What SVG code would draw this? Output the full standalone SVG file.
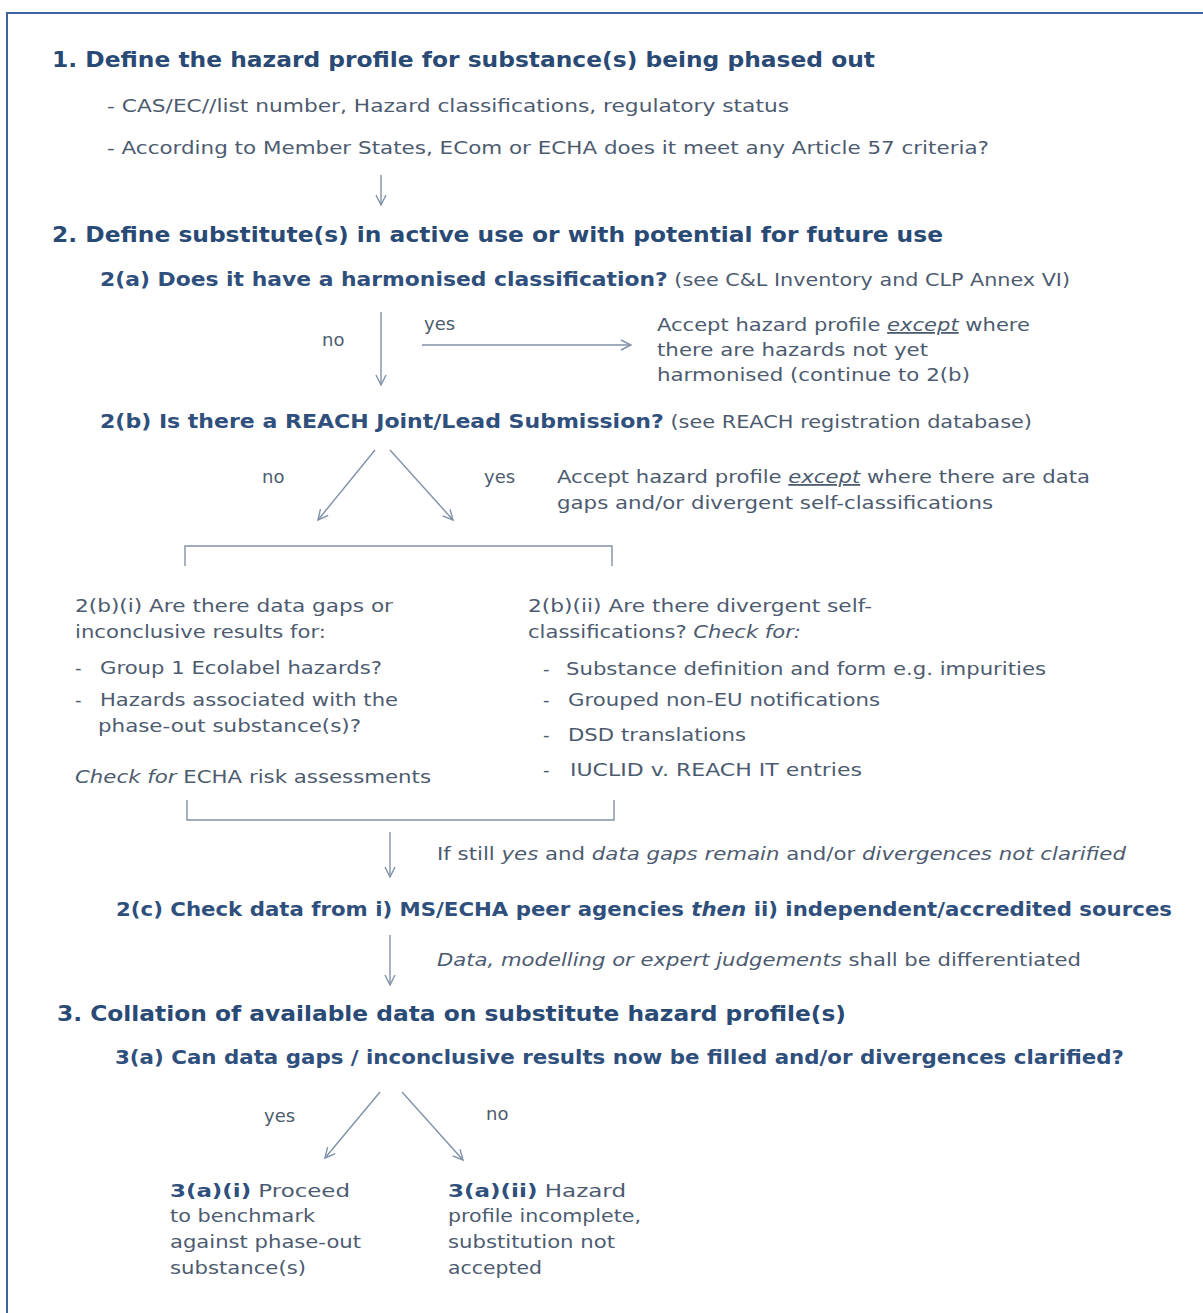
<svg xmlns="http://www.w3.org/2000/svg" width="1203" height="1313" viewBox="0 0 1203 1313">
<style>
text{font-family:"DejaVu Sans","Verdana","Liberation Sans",sans-serif;}
.h1{font-size:22px;font-weight:bold;fill:#2a4a76;}
.h2{font-size:19px;font-weight:bold;fill:#2f4f7c;}
.b{font-size:18px;fill:#4d5b70;}
.n{font-weight:normal;fill:#4d5b70;}
.i{font-style:italic;}
.u{text-decoration:underline;}
.bold{font-weight:bold;fill:#2f4f7c;}
.c{stroke:#8191a9;stroke-width:1.4;fill:none;}
</style>
<defs>
<marker id="ah" viewBox="0 0 12 12" refX="11" refY="6" markerWidth="12" markerHeight="12" markerUnits="userSpaceOnUse" orient="auto">
<path d="M1,1 L11,6 L1,11" fill="none" stroke="#8191a9" stroke-width="1.4"/>
</marker>
</defs>
<rect x="0" y="0" width="1203" height="1313" fill="#ffffff"/>
<rect x="7" y="13" width="1210" height="1320" fill="none" stroke="#3d64a0" stroke-width="2"/>

<g id="connectors">
<line class="c" x1="381" y1="175" x2="381" y2="205" marker-end="url(#ah)"/>
<line class="c" x1="381" y1="312" x2="381" y2="385" marker-end="url(#ah)"/>
<line class="c" x1="422" y1="345" x2="631" y2="345" marker-end="url(#ah)"/>
<line class="c" x1="375" y1="450" x2="318" y2="520" marker-end="url(#ah)"/>
<line class="c" x1="390" y1="450" x2="453" y2="520" marker-end="url(#ah)"/>
<polyline class="c" points="185,566 185,546 612,546 612,566"/>
<polyline class="c" points="187,800 187,820 614,820 614,800"/>
<line class="c" x1="390" y1="832" x2="390" y2="877" marker-end="url(#ah)"/>
<line class="c" x1="390" y1="935" x2="390" y2="985" marker-end="url(#ah)"/>
<line class="c" x1="380" y1="1092" x2="325" y2="1158" marker-end="url(#ah)"/>
<line class="c" x1="402" y1="1092" x2="463" y2="1160" marker-end="url(#ah)"/>
</g>

<g id="step1">
<text class="h1" x="52" y="67" textLength="823" lengthAdjust="spacingAndGlyphs">1. Define the hazard profile for substance(s) being phased out</text>
<text class="b" x="107" y="112" textLength="682" lengthAdjust="spacingAndGlyphs">- CAS/EC//list number, Hazard classifications, regulatory status</text>
<text class="b" x="107" y="154" textLength="882" lengthAdjust="spacingAndGlyphs">- According to Member States, ECom or ECHA does it meet any Article 57 criteria?</text>
</g>

<g id="step2">
<text class="h1" x="52" y="242" textLength="891" lengthAdjust="spacingAndGlyphs">2. Define substitute(s) in active use or with potential for future use</text>
</g>

<g id="step2a">
<text class="h2" x="100" y="286" textLength="970" lengthAdjust="spacingAndGlyphs">2(a) Does it have a harmonised classification?<tspan class="n" font-size="18"> (see C&amp;L Inventory and CLP Annex VI)</tspan></text>
<text class="b" x="322" y="346">no</text>
<text class="b" x="424" y="330">yes</text>
</g>

<g id="step2a-yes">
<text class="b" x="657" y="331" textLength="373" lengthAdjust="spacingAndGlyphs">Accept hazard profile <tspan class="i u">except</tspan> where</text>
<text class="b" x="657" y="356" textLength="271" lengthAdjust="spacingAndGlyphs">there are hazards not yet</text>
<text class="b" x="657" y="381" textLength="313" lengthAdjust="spacingAndGlyphs">harmonised (continue to 2(b)</text>
</g>

<g id="step2b">
<text class="h2" x="100" y="428" textLength="932" lengthAdjust="spacingAndGlyphs">2(b) Is there a REACH Joint/Lead Submission?<tspan class="n" font-size="18"> (see REACH registration database)</tspan></text>
<text class="b" x="262" y="483">no</text>
<text class="b" x="484" y="483">yes</text>
</g>

<g id="step2b-yes">
<text class="b" x="557" y="483" textLength="533" lengthAdjust="spacingAndGlyphs">Accept hazard profile <tspan class="i u">except</tspan> where there are data</text>
<text class="b" x="557" y="509" textLength="436" lengthAdjust="spacingAndGlyphs">gaps and/or divergent self-classifications</text>
</g>

<g id="step2b-i">
<text class="b" x="75" y="612" textLength="318" lengthAdjust="spacingAndGlyphs">2(b)(i) Are there data gaps or</text>
<text class="b" x="75" y="638" textLength="251" lengthAdjust="spacingAndGlyphs">inconclusive results for:</text>
<text class="b" x="75" y="674">-</text>
<text class="b" x="100" y="674" textLength="282" lengthAdjust="spacingAndGlyphs">Group 1 Ecolabel hazards?</text>
<text class="b" x="75" y="706">-</text>
<text class="b" x="100" y="706" textLength="298" lengthAdjust="spacingAndGlyphs">Hazards associated with the</text>
<text class="b" x="98" y="732" textLength="263" lengthAdjust="spacingAndGlyphs">phase-out substance(s)?</text>
<text class="b" x="75" y="783" textLength="356" lengthAdjust="spacingAndGlyphs"><tspan class="i">Check for</tspan> ECHA risk assessments</text>
</g>

<g id="step2b-ii">
<text class="b" x="528" y="612" textLength="344" lengthAdjust="spacingAndGlyphs">2(b)(ii) Are there divergent self-</text>
<text class="b" x="528" y="638" textLength="273" lengthAdjust="spacingAndGlyphs">classifications? <tspan class="i">Check for:</tspan></text>
<text class="b" x="543" y="675">-</text>
<text class="b" x="566" y="675" textLength="480" lengthAdjust="spacingAndGlyphs">Substance definition and form e.g. impurities</text>
<text class="b" x="543" y="706">-</text>
<text class="b" x="568" y="706" textLength="312" lengthAdjust="spacingAndGlyphs">Grouped non-EU notifications</text>
<text class="b" x="543" y="741">-</text>
<text class="b" x="568" y="741" textLength="178" lengthAdjust="spacingAndGlyphs">DSD translations</text>
<text class="b" x="543" y="776">-</text>
<text class="b" x="570" y="776" textLength="292" lengthAdjust="spacingAndGlyphs">IUCLID v. REACH IT entries</text>
</g>

<g id="note-still-yes">
<text class="b" x="437" y="860" textLength="689" lengthAdjust="spacingAndGlyphs">If still <tspan class="i">yes</tspan> and <tspan class="i">data gaps remain</tspan> and/or <tspan class="i">divergences not clarified</tspan></text>
</g>

<g id="step2c">
<text class="h2" x="116" y="916" textLength="1056" lengthAdjust="spacingAndGlyphs">2(c) Check data from i) MS/ECHA peer agencies <tspan class="i">then</tspan> ii) independent/accredited sources</text>
</g>

<g id="note-differentiated">
<text class="b" x="437" y="966" textLength="644" lengthAdjust="spacingAndGlyphs"><tspan class="i">Data, modelling or expert judgements</tspan> shall be differentiated</text>
</g>

<g id="step3">
<text class="h1" x="57" y="1021" textLength="789" lengthAdjust="spacingAndGlyphs">3. Collation of available data on substitute hazard profile(s)</text>
</g>

<g id="step3a">
<text class="h2" x="115" y="1064" textLength="1009" lengthAdjust="spacingAndGlyphs">3(a) Can data gaps / inconclusive results now be filled and/or divergences clarified?</text>
<text class="b" x="264" y="1122">yes</text>
<text class="b" x="486" y="1120">no</text>
</g>

<g id="step3a-i">
<text class="b" x="170" y="1197" textLength="180" lengthAdjust="spacingAndGlyphs"><tspan class="bold">3(a)(i)</tspan>  Proceed</text>
<text class="b" x="170" y="1222" textLength="145" lengthAdjust="spacingAndGlyphs">to benchmark</text>
<text class="b" x="170" y="1248" textLength="191" lengthAdjust="spacingAndGlyphs">against phase-out</text>
<text class="b" x="170" y="1274" textLength="136" lengthAdjust="spacingAndGlyphs">substance(s)</text>
</g>

<g id="step3a-ii">
<text class="b" x="448" y="1197" textLength="178" lengthAdjust="spacingAndGlyphs"><tspan class="bold">3(a)(ii)</tspan>  Hazard</text>
<text class="b" x="448" y="1222" textLength="193" lengthAdjust="spacingAndGlyphs">profile incomplete,</text>
<text class="b" x="448" y="1248" textLength="167" lengthAdjust="spacingAndGlyphs">substitution not</text>
<text class="b" x="448" y="1274" textLength="94" lengthAdjust="spacingAndGlyphs">accepted</text>
</g>
</svg>
